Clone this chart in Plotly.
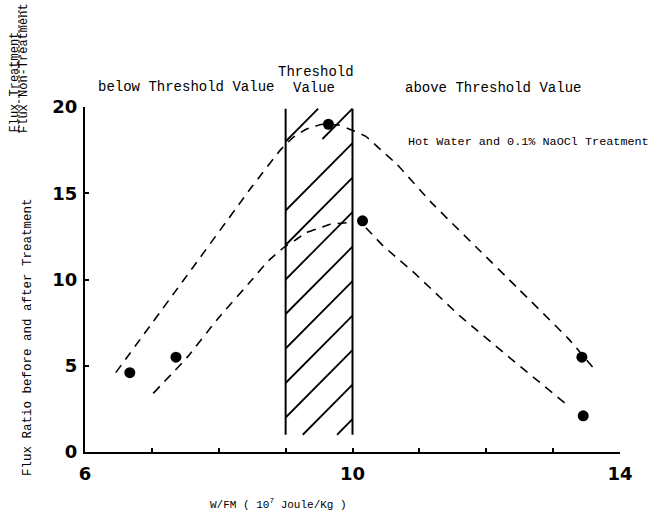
import plotly.graph_objects as go

# ---------------- data ----------------
# measured points
series_a_x = [6.67, 9.64, 13.43]
series_a_y = [4.6, 19.0, 5.5]
series_b_x = [7.36, 10.15, 13.45]
series_b_y = [5.5, 13.4, 2.1]

# dashed fitted curves
curve_upper_x = [6.46, 7.5, 8.5, 8.92, 9.1, 9.3, 9.55, 9.8, 10.0, 10.2, 10.4, 10.67, 11.17, 11.87, 12.47, 13.22, 13.64]
curve_upper_y = [4.6, 10.1, 15.4, 17.5, 18.2, 18.7, 19.0, 18.95, 18.65, 18.3, 17.6, 16.65, 14.5, 11.8, 9.5, 6.6, 4.7]
curve_lower_left_x = [7.02, 7.53, 7.98, 8.5, 8.72, 8.97, 9.15, 9.3, 9.52, 9.67, 9.95]
curve_lower_left_y = [3.4, 5.5, 7.7, 10.0, 11.0, 11.85, 12.3, 12.7, 13.0, 13.2, 13.3]
curve_lower_right_x = [10.2, 10.47, 10.92, 11.6, 12.37, 13.22]
curve_lower_right_y = [13.0, 11.9, 10.4, 7.9, 5.4, 2.7]

# threshold band
band_x = [9.0, 10.0]
band_y = [1.0, 19.9]
hatch_starts = [-2, 0, 2, 4, 6, 8, 10, 12, 14, 16, 18]
hatch_rise = 3.9

x_tick_vals = [6, 10, 14]
y_tick_vals = [0, 5, 10, 15, 20]

# ---------------- layout helpers ----------------
W, H = 650, 516
def px(x):
    return x / W
def py(y):
    return 1 - y / H

fig = go.Figure()

# hatch lines
hx, hy = [], []
for y0 in hatch_starts:
    xa, xb = band_x
    x_start = xa
    if y0 == 16:
        x_start = 9.55
    ya = y0 + hatch_rise * (x_start - xa)
    yb = y0 + hatch_rise * (xb - xa)
    if ya < band_y[0]:
        x_start = xa + (band_y[0] - y0) / hatch_rise
        ya = band_y[0]
    x_end = xb
    if yb > band_y[1]:
        x_end = xa + (band_y[1] - y0) / hatch_rise
        yb = band_y[1]
    hx += [x_start, x_end, None]
    hy += [ya, yb, None]
fig.add_trace(go.Scatter(x=hx, y=hy, mode="lines",
                         line=dict(color="black", width=1.8), hoverinfo="skip"))
for bx in band_x:
    fig.add_trace(go.Scatter(x=[bx, bx], y=band_y, mode="lines",
                             line=dict(color="black", width=2), hoverinfo="skip"))

dash = "9px,7px"
fig.add_trace(go.Scatter(x=curve_upper_x, y=curve_upper_y, mode="lines",
                         line=dict(color="black", width=1.6, dash=dash, shape="spline", smoothing=0.4)))
fig.add_trace(go.Scatter(x=curve_lower_left_x, y=curve_lower_left_y, mode="lines",
                         line=dict(color="black", width=1.6, dash=dash, shape="spline", smoothing=0.4)))
fig.add_trace(go.Scatter(x=curve_lower_right_x, y=curve_lower_right_y, mode="lines",
                         line=dict(color="black", width=1.6, dash=dash)))

fig.add_trace(go.Scatter(x=series_a_x, y=series_a_y, mode="markers",
                         marker=dict(color="black", size=11), cliponaxis=False))
fig.add_trace(go.Scatter(x=series_b_x, y=series_b_y, mode="markers",
                         marker=dict(color="black", size=11), cliponaxis=False))

tick_font = dict(family="DejaVu Sans", size=18, color="black", weight="bold")
mono = "Liberation Mono"

fig.update_layout(
    template="none",
    width=W, height=H,
    margin=dict(l=0, r=0, t=0, b=0, autoexpand=False),
    paper_bgcolor="white", plot_bgcolor="white",
    showlegend=False,
    xaxis=dict(domain=[px(85), px(620)], range=[6, 14], automargin=False,
               showline=True, linecolor="black", linewidth=2,
               showgrid=False, zeroline=False,
               tickmode="array", tickvals=x_tick_vals,
               ticks="inside", ticklen=4, tickcolor="black", tickwidth=2,
               minor=dict(dtick=1, ticks="inside", ticklen=4, tickcolor="black", tickwidth=2, showgrid=False),
               tickfont=tick_font, ticklabelstandoff=4),
    yaxis=dict(domain=[1 - 452 / H, 1 - 107 / H], range=[0, 20], automargin=False,
               showline=True, linecolor="black", linewidth=2,
               showgrid=False, zeroline=False,
               tickmode="array", tickvals=y_tick_vals,
               ticks="inside", ticklen=4, tickcolor="black", tickwidth=2,
               tickfont=tick_font, ticklabelstandoff=2),
)

def ann(text, x, y, size, xanchor="center", yanchor="middle", angle=0, font=mono):
    fig.add_annotation(text=text, x=px(x), y=py(y), xref="paper", yref="paper",
                       showarrow=False, xanchor=xanchor, yanchor=yanchor, textangle=angle,
                       font=dict(family=font, size=size, color="black"))

ann("below Threshold Value", 186, 87, 14)
ann("Threshold", 316, 72, 14)
ann("Value", 314, 88, 14)
ann("above Threshold Value", 493, 88, 14)
ann("Hot Water and 0.1% NaOCl Treatment", 406, 142, 11.8, xanchor="left")
ann("W/FM ( 10<sup>7</sup> Joule/Kg )", 278, 504, 11)
ann("Flux Ratio before and after Treatment", 28, 337, 12.5, angle=-90)
ann("Flux Treatment", 14, 135, 12, yanchor="bottom", angle=-90)
ann("Flux Non-Treatment", 24, 135, 12, yanchor="bottom", angle=-90)
fig.add_shape(type="line", xref="paper", yref="paper",
              x0=px(19), x1=px(19), y0=py(133), y1=py(8),
              line=dict(color="black", width=1, dash="3px,2px"))

fig.write_html("out.html", config={"displayModeBar": False},
               post_script="document.body.style.margin='0';document.body.style.overflow='hidden';")
